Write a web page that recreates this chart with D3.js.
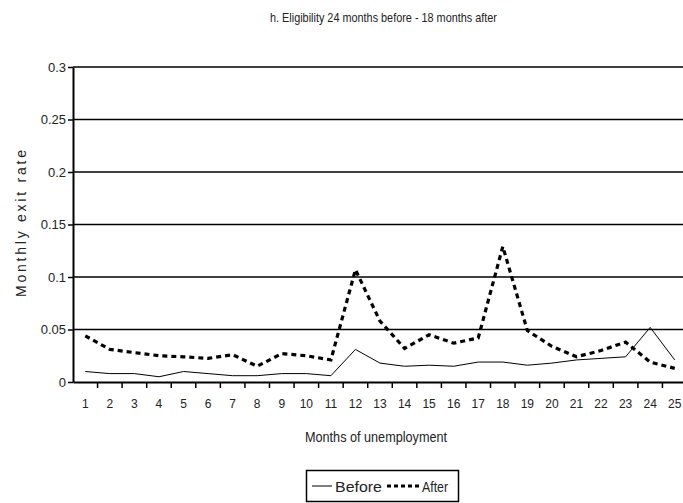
<!DOCTYPE html>
<html><head><meta charset="utf-8">
<script src="https://cdn.jsdelivr.net/npm/d3@7"></script>
<style>
body{margin:0;background:#fff;}
svg{display:block;}
text{font-family:"Liberation Sans Narrow","Arial Narrow","Liberation Sans",sans-serif;fill:#222;}
</style></head><body>
<svg id="c" width="683" height="503"></svg>
<script>
const months = d3.range(1, 26).map(String);
const before = [0.010,0.008,0.008,0.005,0.010,0.008,0.006,0.006,0.008,0.008,0.006,0.031,0.018,0.015,0.016,0.015,0.019,0.019,0.016,0.018,0.021,0.0225,0.024,0.052,0.021];
const after  = [0.044,0.031,0.028,0.025,0.024,0.0225,0.026,0.015,0.027,0.025,0.021,0.107,0.058,0.032,0.045,0.037,0.042,0.129,0.049,0.034,0.024,0.030,0.038,0.019,0.013];
const yTicks = [0,0.05,0.1,0.15,0.2,0.25,0.3];
const yTickLabels = ["0","0.05","0.1","0.15","0.2","0.25","0.3"];
const seriesNames = ["Before","After"];

const svg = d3.select("#c");
const x = d3.scaleBand().domain(months).range([73, 687]);
const y = d3.scaleLinear().domain([0, 0.3]).range([382, 67]);

// title
svg.append("text").attr("x", 270).attr("y", 22)
  .attr("textLength",227).attr("lengthAdjust","spacingAndGlyphs")
  .style("font-size","13.5px").text("h. Eligibility 24 months before - 18 months after");

// gridlines
svg.append("g").selectAll("line").data(yTicks.filter(d=>d>0)).join("line")
  .attr("x1", 73).attr("x2", 687).attr("y1", d=>y(d)).attr("y2", d=>y(d))
  .attr("stroke","#000").attr("stroke-width",1.5);

// y axis
const yAxis = svg.append("g").attr("transform","translate(73,0)")
  .call(d3.axisLeft(y).tickValues(yTicks).tickFormat((d,i)=>yTickLabels[i]).tickSize(5).tickSizeOuter(0));
yAxis.select(".domain").attr("stroke","#000").attr("stroke-width",2);
yAxis.selectAll(".tick line").attr("stroke","#000").attr("stroke-width",1.5);
yAxis.selectAll("text").style("font-size","13px").style("font-family","'Liberation Sans Narrow','Arial Narrow',sans-serif").attr("fill","#222").attr("x",-7);

// x axis
const xAxis = svg.append("g").attr("transform","translate(0,382)")
  .call(d3.axisBottom(x).tickSize(0).tickSizeOuter(0));
xAxis.select(".domain").attr("stroke","#000").attr("stroke-width",2);
xAxis.selectAll("text").style("font-size","12px").attr("fill","#222").attr("dy","1.9em");
// tick marks between categories
svg.append("g").selectAll("line").data(months.slice(0,24)).join("line")
  .attr("x1", d=>x(d)+x.bandwidth()).attr("x2", d=>x(d)+x.bandwidth())
  .attr("y1",382).attr("y2",388).attr("stroke","#000").attr("stroke-width",1.5);

// axis titles
svg.append("text").attr("x", 305).attr("y", 442)
  .attr("textLength",142).attr("lengthAdjust","spacingAndGlyphs")
  .style("font-size","14px").text("Months of unemployment");
svg.append("text").attr("transform","translate(26,297) rotate(-90)")
  .attr("textLength",147).attr("lengthAdjust","spacing")
  .style("font-family","'Liberation Sans',Arial,sans-serif").style("font-size","14px")
  .text("Monthly exit rate");

// lines
const line = d3.line().x((d,i)=>x(months[i])+x.bandwidth()/2).y(d=>y(d));
svg.append("path").datum(before).attr("d", line).attr("fill","none").attr("stroke","#000").attr("stroke-width",1);
svg.append("path").datum(after).attr("d", line).attr("fill","none").attr("stroke","#000")
  .attr("stroke-width",3.2).attr("stroke-dasharray","5,4");

// legend
const lg = svg.append("g");
lg.append("rect").attr("x",306.5).attr("y",470.5).attr("width",152).attr("height",31)
  .attr("fill","#fff").attr("stroke","#000").attr("stroke-width",1.5);
lg.append("line").attr("x1",312).attr("x2",332).attr("y1",486).attr("y2",486).attr("stroke","#000").attr("stroke-width",1);
lg.append("text").attr("x",335).attr("y",492).attr("textLength",47).attr("lengthAdjust","spacingAndGlyphs")
  .style("font-size","15px").text(seriesNames[0]);
lg.append("line").attr("x1",387).attr("x2",420).attr("y1",486).attr("y2",486).attr("stroke","#000")
  .attr("stroke-width",3.2).attr("stroke-dasharray","4,3");
lg.append("text").attr("x",422).attr("y",492).attr("textLength",26).attr("lengthAdjust","spacingAndGlyphs")
  .style("font-size","15px").text(seriesNames[1]);
</script></body></html>
